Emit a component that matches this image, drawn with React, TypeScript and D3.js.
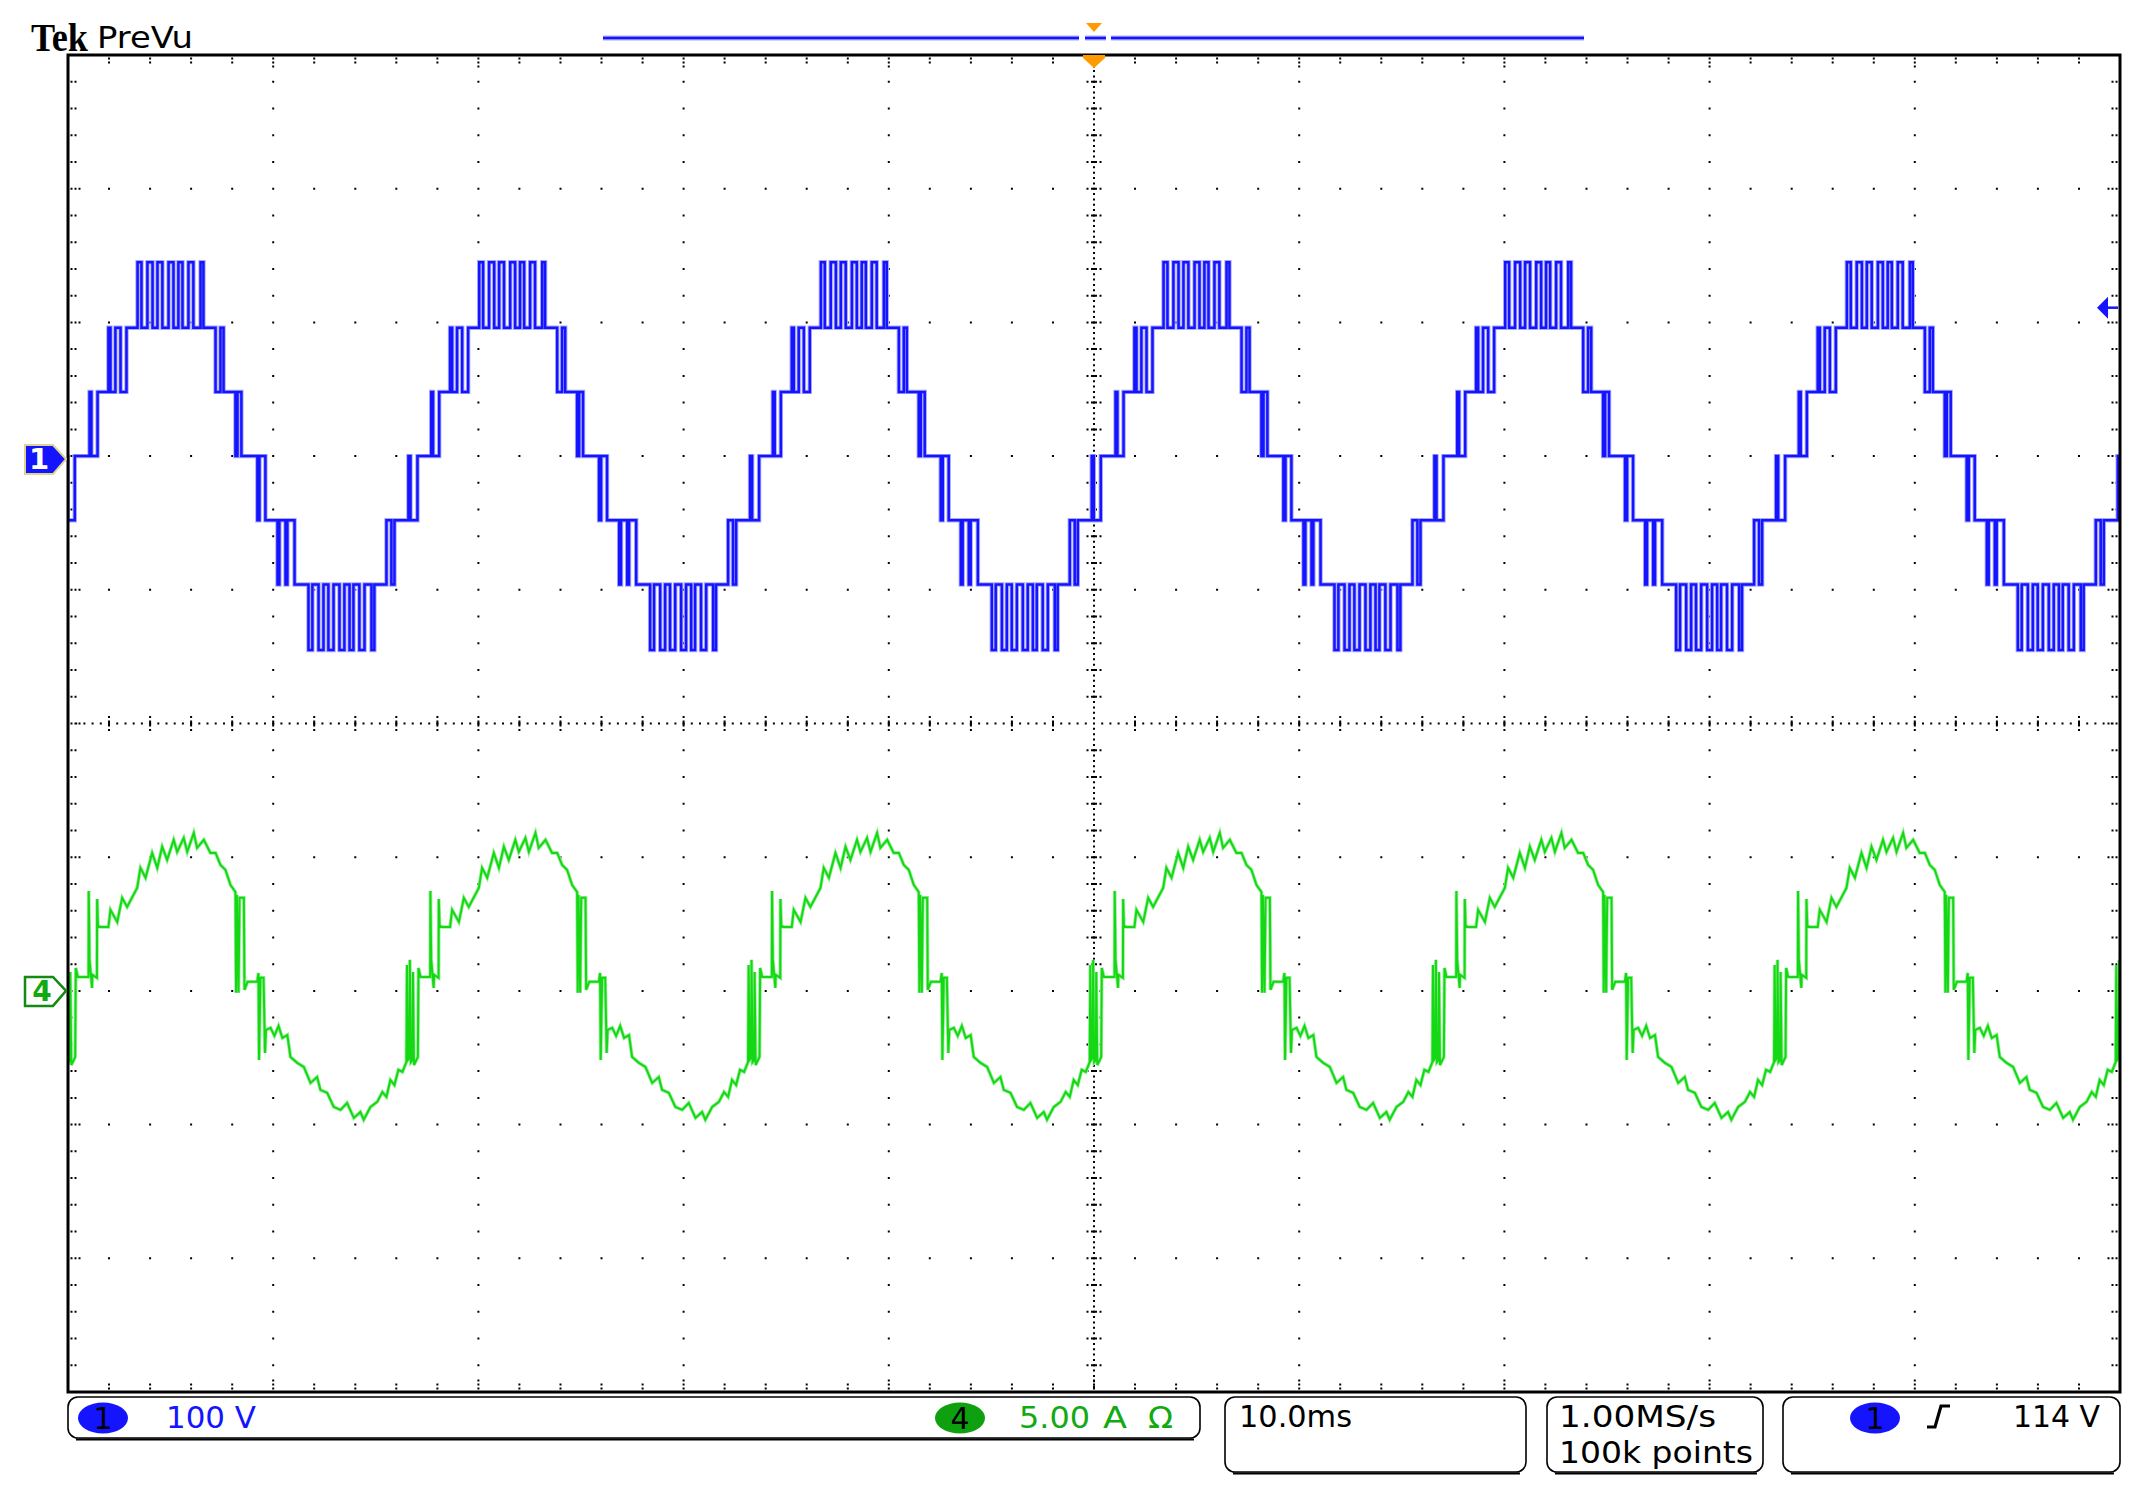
import React from "react";
import * as d3 from "d3";

// ---------------- values ----------------
const TIME_RANGE_MS = [-50, 50]; // 10 div x 10.0 ms/div, trigger at centre
const DIV_RANGE = [-5, 5]; // vertical divisions
const CH1_VOLTS_PER_DIV = 100;
const CH1_POSITION_DIV = 2;
const CH4_AMPS_PER_DIV = 5;
const CH4_POSITION_DIV = -2;
const TRIGGER_LEVEL_V = 114;

// start (ms) of each observed fundamental cycle
const CYCLE_START_MS = [-65.8, -49.1, -32.45, -15.8, 0.9, 17.55, 34.2];

// channel 1: staircase (multilevel) voltage, switching instants within a cycle
const CH1_T_MS = [
  0, 0.15, 0.24, 0.54, 1.07, 1.17, 1.41, 1.66, 1.95, 2.49,
  2.68, 2.97, 3.22, 3.46, 3.7, 4.0, 4.24, 4.48, 4.68, 4.97,
  5.21, 5.56, 5.7, 6.29, 6.53, 6.68, 7.26, 7.36, 7.55, 8.33,
  8.43, 8.72, 9.31, 9.4, 9.7, 9.79, 10.14, 10.82, 11.01, 11.31,
  11.55, 11.79, 12.04, 12.33, 12.57, 12.82, 13.01, 13.3, 13.55, 13.89,
  14.03, 14.62, 14.86, 15.01, 15.69, 15.79, 16.13,
];
const CH1_VOLTS = [
  0, 48, 0, 48, 96, 48, 96, 48, 96, 145,
  96, 145, 96, 145, 96, 145, 96, 145, 96, 145,
  96, 145, 96, 48, 96, 48, 0, 48, 0, -48,
  0, -48, -96, -48, -96, -48, -96, -145, -96, -145,
  -96, -145, -96, -145, -96, -145, -96, -145, -96, -145,
  -96, -48, -96, -48, 0, -48, 0,
];

// channel 4: load current within a cycle
const CH4_T_MS = [
  0, 0.1, 0.11, 0.15, 0.27, 0.29, 0.51, 0.52, 0.56, 0.68,
  1.07, 1.17, 1.5, 1.74, 1.98, 2.47, 2.63, 2.88, 3.2, 3.45,
  3.69, 3.93, 4.25, 4.42, 4.74, 4.91, 5.23, 5.39, 5.72, 6.04,
  6.29, 6.53, 6.77, 7.02, 7.26, 7.29, 7.33, 7.41, 7.46, 7.67,
  7.7, 7.85, 8.32, 8.38, 8.41, 8.48, 8.63, 8.7, 8.75, 8.97,
  9.16, 9.36, 9.55, 9.79, 9.94, 10.27, 10.59, 10.92, 11.24, 11.4,
  11.73, 12.05, 12.38, 12.7, 13.03, 13.35, 13.51, 13.84, 14.17, 14.42,
  14.62, 14.81, 15.01, 15.2, 15.4, 15.59, 15.62, 15.67, 15.74, 15.76,
  15.81, 15.89, 15.91, 15.96, 16.15, 16.18, 16.28,
];
const CH4_AMPS = [
  0.52, 0.52, 3.74, 1.16, 0.11, 0.6, 0.49, 3.44, 2.43, 2.39,
  2.39, 3.03, 2.58, 3.48, 3.14, 3.85, 4.6, 4.23, 5.16, 4.6,
  5.39, 4.9, 5.65, 5.2, 5.72, 5.2, 5.91, 5.35, 5.65, 5.16,
  5.16, 4.71, 4.53, 3.96, 3.7, -0.07, 3.59, -0.07, 3.48, 3.48,
  0.04, 0.34, 0.34, 0.67, -2.58, 0.49, 0.49, -2.32, -1.46, -1.38,
  -1.68, -1.31, -1.76, -1.65, -2.47, -2.69, -2.84, -3.44, -3.22, -3.7,
  -3.81, -4.34, -4.45, -4.19, -4.75, -4.53, -4.82, -4.34, -4.15, -3.78,
  -3.96, -3.33, -3.52, -2.95, -3.03, -2.66, 0.97, -2.58, -2.51, 1.16,
  -2.66, -2.58, 0.71, -2.77, -2.47, 0.86, 0.52,
];

const TITLE_BRAND = "Tek";
const TITLE_MODE = "PreVu";
const CH1_LABEL = "1";
const CH4_LABEL = "4";
const CH1_SCALE_TEXT = "100 V";
const CH4_SCALE_TEXT = ["5.00", "A", "Ω"];
const TIMEBASE_TEXT = "10.0ms";
const SAMPLE_TEXT = ["1.00MS/s", "100k points"];
const TRIGGER_TEXT = "114 V";

// ---------------- drawing ----------------
const W = 2138;
const H = 1489;
const GX0 = 68;
const GX1 = 2120;
const GY0 = 55;
const GY1 = 1392;

const BLUE = "#1414ff";
const BLUE_HALO = "#a9a9ff";
const GREEN = "#14d814";
const GREEN_HALO = "#9af09a";
const ORANGE = "#ff9a00";
const FONT = "'DejaVu Sans', 'Liberation Sans', sans-serif";

export default function App() {
  const x = d3.scaleLinear().domain(TIME_RANGE_MS).range([GX0, GX1]);
  const y = d3.scaleLinear().domain(DIV_RANGE).range([GY1, GY0]);
  const yV = (v: number) => y(v / CH1_VOLTS_PER_DIV + CH1_POSITION_DIV);
  const yA = (a: number) => y(a / CH4_AMPS_PER_DIV + CH4_POSITION_DIV);

  const ch1: [number, number][] = [];
  CYCLE_START_MS.forEach((c) =>
    CH1_T_MS.forEach((t, i) => ch1.push([c + t, CH1_VOLTS[i]]))
  );
  const ch4: [number, number][] = [];
  CYCLE_START_MS.forEach((c) =>
    CH4_T_MS.forEach((t, i) => ch4.push([c + t, CH4_AMPS[i]]))
  );

  const line1 = d3
    .line<[number, number]>()
    .x((d) => x(d[0]))
    .y((d) => yV(d[1]))
    .curve(d3.curveStepAfter);
  const line4 = d3
    .line<[number, number]>()
    .x((d) => x(d[0]))
    .y((d) => yA(d[1]));

  // graticule dots
  const dots: string[] = [];
  const dot = (px: number, py: number) =>
    dots.push(`M${(px - 1).toFixed(1)},${(py - 1).toFixed(1)}h2v2h-2z`);
  const bars: string[] = [];
  const xc = x(0);
  const yc = y(0);
  for (let k = -4; k <= 4; k++) {
    if (k === 0) continue;
    for (let j = -24; j <= 24; j++) dot(x(k * 10), y(j / 5));
  }
  for (let k = -4; k <= 4; k++) {
    if (k === 0) continue;
    for (let i = -24; i <= 24; i++) dot(x(i * 2), y(k));
  }
  for (let n = -124; n <= 124; n++) {
    dot(xc, y(n / 25));
    dot(x(n * 0.4), yc);
  }
  for (let i = -24; i <= 24; i++) {
    if (i === 0) continue;
    const px = x(i * 2);
    dot(px, yc - 6.5);
    dot(px, yc + 6.5);
    bars.push(`M${(px - 1).toFixed(1)},${(yc - 3).toFixed(1)}h2v6h-2z`);
    const py = y(i / 5);
    dot(xc - 6.5, py);
    dot(xc + 6.5, py);
    bars.push(`M${(xc - 3).toFixed(1)},${(py - 1).toFixed(1)}h6v2h-6z`);
  }
  for (let i = -24; i <= 24; i++) {
    const px = x(i * 2);
    const offs = i % 5 === 0 ? [3.5, 7.5, 11.5] : [3.5, 7.5];
    offs.forEach((o) => {
      dot(px, GY0 + o);
      dot(px, GY1 - o);
    });
    const py = y(i / 5);
    offs.forEach((o) => {
      dot(GX0 + o, py);
      dot(GX1 - o, py);
    });
  }

  const marker = (tipX: number, cy: number) =>
    `M${tipX - 41},${cy - 14} L${tipX - 13},${cy - 14} L${tipX},${cy} L${tipX - 13},${cy + 15} L${tipX - 41},${cy + 15} Z`;

  const ch1Zero = yV(0);
  const ch4Zero = yA(0);
  const trigY = yV(TRIGGER_LEVEL_V);

  const box = (bx: number, by: number, bw: number, bh: number, key: string) => (
    <g key={key}>
      <rect x={bx} y={by} width={bw} height={bh} rx={10} ry={10} fill="#fff" stroke="#000" strokeWidth={1.6} />
      <path d={`M${bx + 8},${by + bh + 1.5} H${bx + bw - 6}`} stroke="#000" strokeWidth={2} />
    </g>
  );

  return (
    <div style={{ position: "absolute", left: 0, top: 0 }}>
      <svg width={W} height={H} viewBox={`0 0 ${W} ${H}`} style={{ display: "block", background: "#fff" }}>
        <defs>
          <clipPath id="screen">
            <rect x={GX0 + 1} y={GY0 + 1} width={GX1 - GX0 - 2} height={GY1 - GY0 - 2} />
          </clipPath>
        </defs>
        <rect x={0} y={0} width={W} height={H} fill="#fff" />

        {/* header */}
        <text x={31} y={51} fontFamily="'Liberation Serif', 'DejaVu Serif', serif" fontWeight="bold" fontSize={41} textLength={57} lengthAdjust="spacingAndGlyphs" fill="#000">
          {TITLE_BRAND}
        </text>
        <text x={97} y={48} fontFamily={FONT} fontSize={30} textLength={96} lengthAdjust="spacingAndGlyphs" fill="#000">
          {TITLE_MODE}
        </text>

        {/* record view bar */}
        <g stroke={BLUE_HALO} strokeWidth={5}>
          <line x1={603} y1={38} x2={1079} y2={38} />
          <line x1={1085} y1={38} x2={1106} y2={38} />
          <line x1={1111} y1={38} x2={1584} y2={38} />
        </g>
        <g stroke={BLUE} strokeWidth={2.5}>
          <line x1={603} y1={38} x2={1079} y2={38} />
          <line x1={1085} y1={38} x2={1106} y2={38} />
          <line x1={1111} y1={38} x2={1584} y2={38} />
        </g>
        <path d={`M${xc - 8},23 L${xc + 8},23 L${xc},32 Z`} fill={ORANGE} />

        {/* graticule */}
        <path d={dots.join("")} fill="#000" />
        <path d={bars.join("")} fill="#000" />

        {/* traces */}
        <g clipPath="url(#screen)" fill="none" strokeLinejoin="miter">
          <path d={line4(ch4) || ""} stroke={GREEN_HALO} strokeWidth={3.6} />
          <path d={line4(ch4) || ""} stroke={GREEN} strokeWidth={2} />
          <path d={line1(ch1) || ""} stroke={BLUE_HALO} strokeWidth={4.4} />
          <path d={line1(ch1) || ""} stroke={BLUE} strokeWidth={2.5} />
        </g>

        {/* frame */}
        <rect x={GX0} y={GY0} width={GX1 - GX0} height={GY1 - GY0} fill="none" stroke="#000" strokeWidth={3} />

        {/* trigger position marker */}
        <path d={`M${xc - 11},${GY0} L${xc + 11},${GY0} L${xc + 11},${GY0 + 3} L${xc},${GY0 + 13} L${xc - 11},${GY0 + 3} Z`} fill={ORANGE} />

        {/* trigger level arrow */}
        <path d={`M${GX1 - 23},${trigY + 4} L${GX1 - 12},${trigY - 7} L${GX1 - 12},${trigY + 15} Z`} fill={BLUE} />
        <line x1={GX1 - 13} y1={trigY + 4} x2={GX1 - 2} y2={trigY + 4} stroke={BLUE} strokeWidth={2.5} />

        {/* channel markers */}
        <path d={marker(66, ch1Zero + 3)} fill={BLUE} stroke="#ddd48e" strokeWidth={2} />
        <text x={39} y={ch1Zero + 13} textAnchor="middle" fontFamily={FONT} fontWeight="bold" fontSize={29} fill="#fff">
          {CH1_LABEL}
        </text>
        <path d={marker(66, ch4Zero)} fill="#fff" stroke="#138a13" strokeWidth={2.5} />
        <text x={42} y={ch4Zero + 10} textAnchor="middle" fontFamily={FONT} fontWeight="bold" fontSize={28} fill="#11aa11">
          {CH4_LABEL}
        </text>

        {/* status boxes */}
        {box(68, 1397, 1132, 41, "b1")}
        {box(1225, 1397, 301, 75, "b2")}
        {box(1547, 1397, 216, 75, "b3")}
        {box(1783, 1397, 337, 75, "b4")}

        <ellipse cx={103} cy={1418} rx={25} ry={15.5} fill={BLUE} />
        <text x={103} y={1429} textAnchor="middle" fontFamily={FONT} fontSize={30} fill="#000">
          {CH1_LABEL}
        </text>
        <text x={166} y={1428} fontFamily={FONT} fontSize={31} textLength={90} lengthAdjust="spacingAndGlyphs" fill={BLUE}>
          {CH1_SCALE_TEXT}
        </text>

        <ellipse cx={960} cy={1418} rx={25} ry={15.5} fill="#0fa00f" />
        <text x={960} y={1429} textAnchor="middle" fontFamily={FONT} fontSize={30} fill="#000">
          {CH4_LABEL}
        </text>
        <text x={1019} y={1428} fontFamily={FONT} fontSize={31} textLength={71} lengthAdjust="spacingAndGlyphs" fill="#11aa11">
          {CH4_SCALE_TEXT[0]}
        </text>
        <text x={1103} y={1428} fontFamily={FONT} fontSize={31} textLength={24} lengthAdjust="spacingAndGlyphs" fill="#11aa11">
          {CH4_SCALE_TEXT[1]}
        </text>
        <text x={1148} y={1428} fontFamily={FONT} fontSize={31} textLength={25} lengthAdjust="spacingAndGlyphs" fill="#11aa11">
          {CH4_SCALE_TEXT[2]}
        </text>

        <text x={1239} y={1427} fontFamily={FONT} fontSize={31} textLength={113} lengthAdjust="spacingAndGlyphs" fill="#000">
          {TIMEBASE_TEXT}
        </text>
        <text x={1559} y={1427} fontFamily={FONT} fontSize={31} textLength={157} lengthAdjust="spacingAndGlyphs" fill="#000">
          {SAMPLE_TEXT[0]}
        </text>
        <text x={1559} y={1463} fontFamily={FONT} fontSize={31} textLength={194} lengthAdjust="spacingAndGlyphs" fill="#000">
          {SAMPLE_TEXT[1]}
        </text>

        <ellipse cx={1875} cy={1418} rx={25} ry={15.5} fill={BLUE} />
        <text x={1875} y={1429} textAnchor="middle" fontFamily={FONT} fontSize={30} fill="#000">
          {CH1_LABEL}
        </text>
        <path d="M1927,1427 L1935,1427 L1941,1406 L1950,1406" fill="none" stroke="#000" strokeWidth={3.2} />
        <text x={2013} y={1427} fontFamily={FONT} fontSize={31} textLength={87} lengthAdjust="spacingAndGlyphs" fill="#000">
          {TRIGGER_TEXT}
        </text>
      </svg>
    </div>
  );
}
